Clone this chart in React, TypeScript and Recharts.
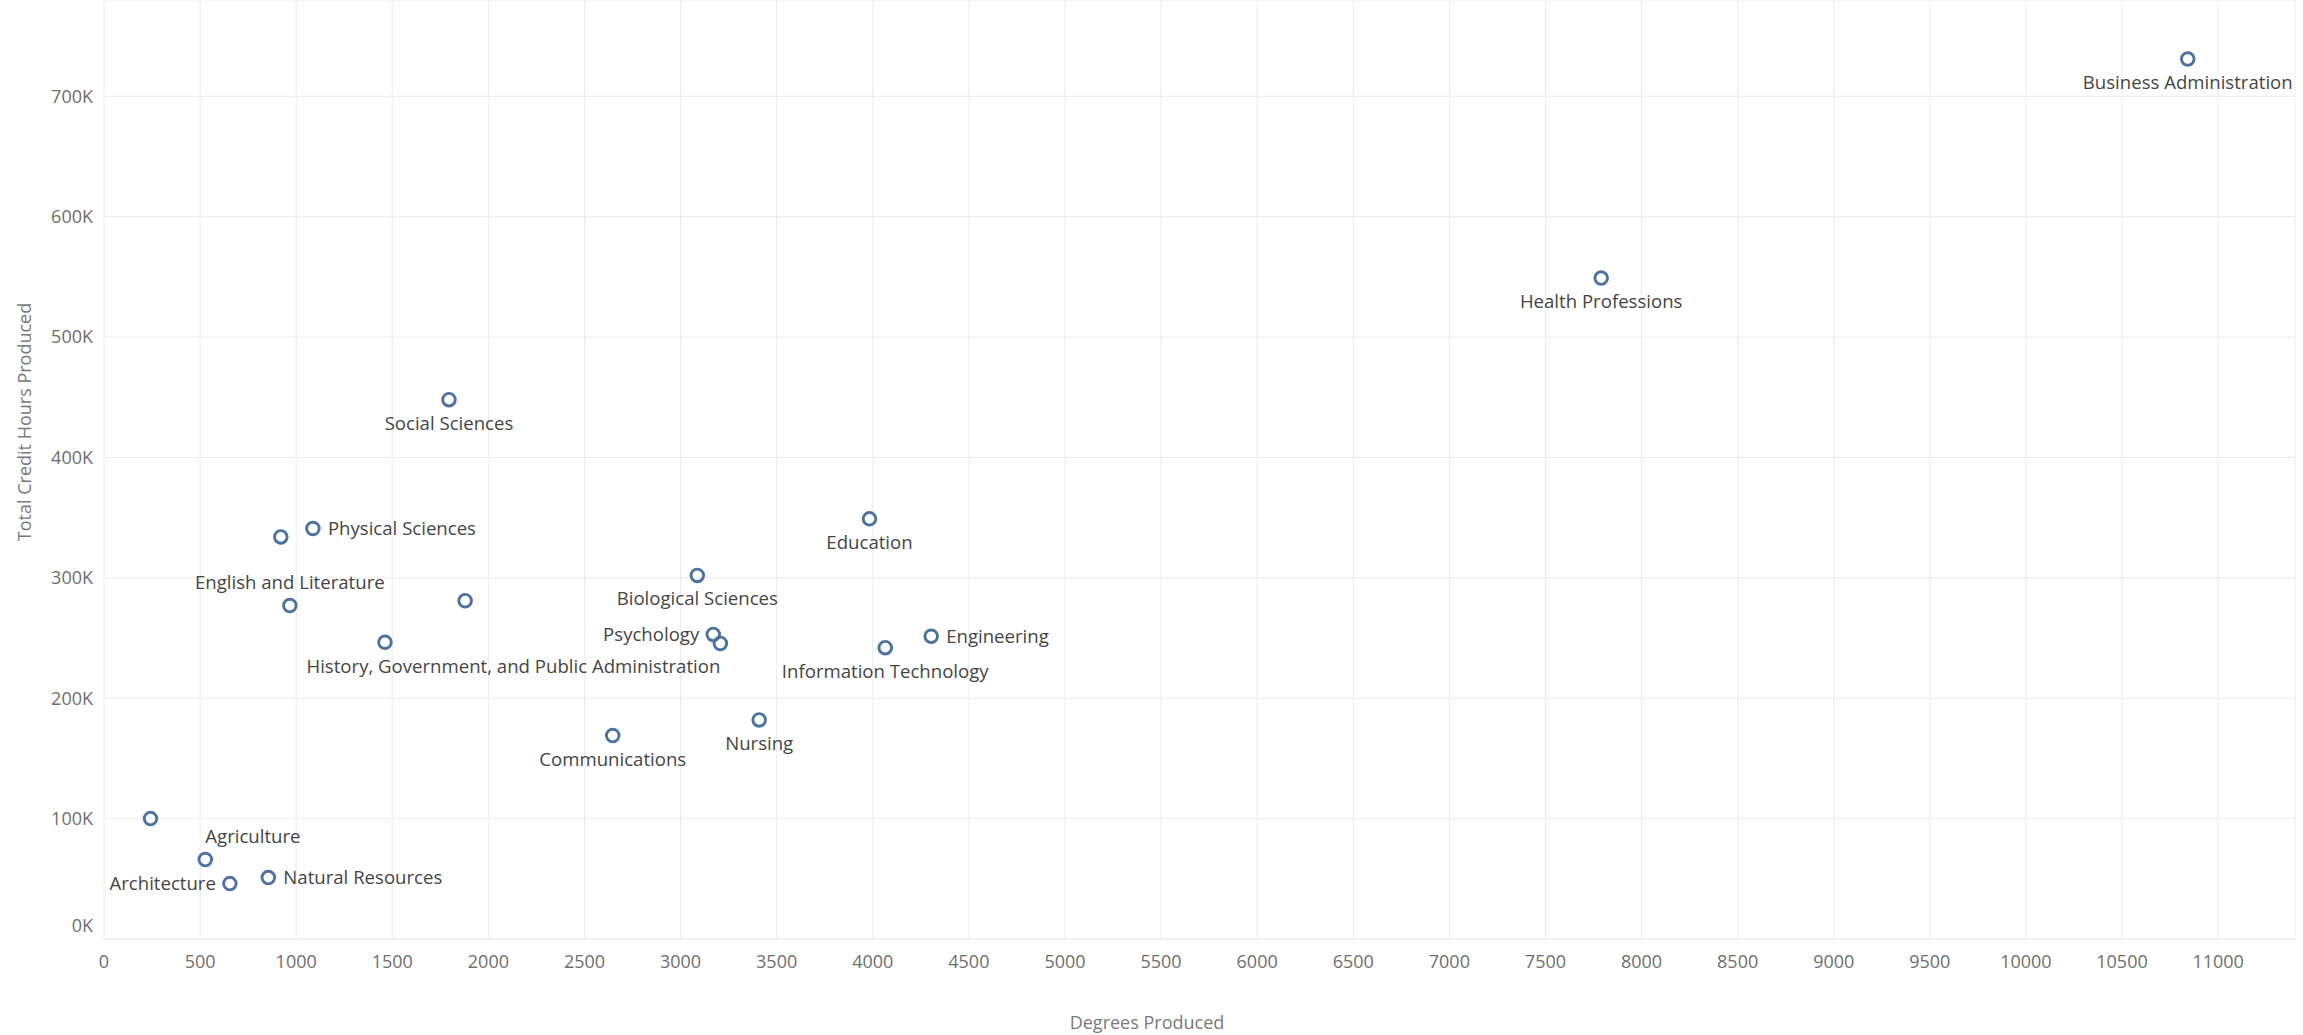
import { CartesianGrid, Label, Scatter, ScatterChart, XAxis, YAxis } from "recharts";

const categories = [
  "Business Administration",
  "Health Professions",
  "Social Sciences",
  "Education",
  "Physical Sciences",
  "",
  "Biological Sciences",
  "English and Literature",
  "",
  "",
  "Psychology",
  "History, Government, and Public Administration",
  "Information Technology",
  "Engineering",
  "Nursing",
  "Communications",
  "",
  "Agriculture",
  "Architecture",
  "Natural Resources",
];

const degreesProduced = [
  10842, 7790, 1795, 3983, 1087, 920, 3087, 967, 1879, 1462, 3170, 3207, 4065,
  4304, 3409, 2647, 242, 527, 655, 855,
];

const creditHoursProduced = [
  731000, 549000, 448000, 349000, 341000, 334000, 302000, 277000, 281000,
  246500, 253000, 245500, 242000, 251500, 182000, 169000, 100000, 66000, 46000,
  51000,
];

const xTicks = [
  0, 500, 1000, 1500, 2000, 2500, 3000, 3500, 4000, 4500, 5000, 5500, 6000,
  6500, 7000, 7500, 8000, 8500, 9000, 9500, 10000, 10500, 11000,
];

const yTicks = [0, 100000, 200000, 300000, 400000, 500000, 600000, 700000];

// where each text label sits relative to its marker
const labelPlacement: Record<string, string> = {
  "Business Administration": "bottom",
  "Health Professions": "bottom",
  "Social Sciences": "bottom",
  Education: "bottom",
  "Physical Sciences": "right",
  "Biological Sciences": "bottom",
  "English and Literature": "top",
  Psychology: "left",
  "History, Government, and Public Administration": "bottom-left",
  "Information Technology": "bottom",
  Engineering: "right",
  Nursing: "bottom",
  Communications: "bottom",
  Agriculture: "top-right",
  Architecture: "left",
  "Natural Resources": "right",
};

const points = categories.map((name, i) => ({
  name,
  degrees: degreesProduced[i],
  hours: creditHoursProduced[i],
}));

const FONT = "'Open Sans', 'Noto Sans', sans-serif";
const markerColor = "#4d72a0";
const gridColor = "#ececec";

function OpenCircle(props: any) {
  const { cx, cy, payload } = props;
  const place = labelPlacement[payload.name];
  let label = null;
  if (payload.name && place) {
    let x = cx;
    let y = cy;
    let anchor = "middle";
    if (place === "bottom") y = cy + 23.5;
    if (place === "top") y = cy - 23.5;
    if (place === "right") {
      x = cx + 15;
      anchor = "start";
    }
    if (place === "left") {
      x = cx - 14;
      anchor = "end";
    }
    if (place === "bottom-left") {
      y = cy + 23;
      anchor = "end";
    }
    if (place === "top-right") {
      y = cy - 23;
      anchor = "start";
    }
    label = (
      <text
        x={x}
        y={y}
        dy="0.35em"
        textAnchor={anchor}
        fontSize={18.6}
        fontFamily={FONT}
        fill="#454545"
      >
        {payload.name}
      </text>
    );
  }
  return (
    <g>
      <circle
        cx={cx}
        cy={cy}
        r={6.3}
        fill="none"
        stroke={markerColor}
        strokeWidth={2.9}
      />
      {label}
    </g>
  );
}

function YTick({ x, y, payload }: any) {
  // the 0K label sits a little above the baseline in the original
  const shift = payload.value === 0 ? -13 : 0;
  return (
    <text
      x={x}
      y={y + shift}
      dy="0.35em"
      textAnchor="end"
      fontSize={18}
      fontFamily={FONT}
      fill="#6e6e6e"
    >
      {`${payload.value / 1000}K`}
    </text>
  );
}

export default function App() {
  return (
    <div
      style={{
        position: "absolute",
        left: 0,
        top: 0,
        width: 2303,
        height: 1035,
        background: "#fff",
        fontFamily: FONT,
      }}
    >
      <ScatterChart
        width={2303}
        height={1035}
        margin={{ top: 0, right: 8, bottom: 36, left: 0 }}
      >
        <CartesianGrid stroke={gridColor} />
        <XAxis
          type="number"
          dataKey="degrees"
          domain={[0, 11400]}
          ticks={xTicks}
          allowDataOverflow
          axisLine={{ stroke: gridColor }}
          tickLine={false}
          tickSize={0}
          tickMargin={16}
          height={60}
          tick={{ fontSize: 18, fill: "#6e6e6e", fontFamily: FONT }}
        >
          <Label
            content={() => (
              <text
                x={1147}
                y={1023}
                dy="0.35em"
                textAnchor="middle"
                fontSize={18}
                fontFamily={FONT}
                fill="#7a7a7a"
              >
                Degrees Produced
              </text>
            )}
          />
        </XAxis>
        <YAxis
          type="number"
          dataKey="hours"
          domain={[0, 780000]}
          ticks={yTicks}
          allowDataOverflow
          axisLine={false}
          tickLine={false}
          tickSize={0}
          tickMargin={11}
          width={104}
          tick={<YTick />}
        >
          <Label
            content={() => (
              <text
                x={25}
                y={422}
                dy="0.35em"
                textAnchor="middle"
                fontSize={18}
                fontFamily={FONT}
                fill="#7a7a7a"
                transform="rotate(-90 25 422)"
              >
                Total Credit Hours Produced
              </text>
            )}
          />
        </YAxis>
        <Scatter
          data={points}
          shape={<OpenCircle />}
          isAnimationActive={false}
        />
      </ScatterChart>
    </div>
  );
}
